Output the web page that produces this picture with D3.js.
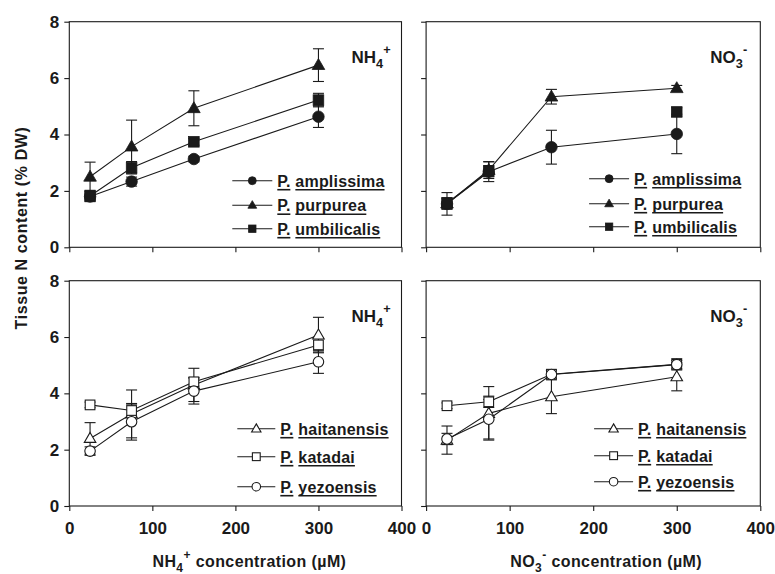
<!DOCTYPE html>
<html><head><meta charset="utf-8">
<script src="https://cdn.jsdelivr.net/npm/d3@7"></script>
<style>
body{margin:0;background:#fff}
svg text{font-family:"Liberation Sans",Arial,Helvetica,sans-serif;font-weight:bold;fill:#1a1a1a}
</style></head><body>
<svg id="c" width="775" height="574"></svg>
<script>
// ---------- data ----------
const concentrations = [25, 75, 150, 300];
const xTicks = [0, 100, 200, 300, 400];
const yTicks = [0, 2, 4, 6, 8];
const speciesTop = ["amplissima", "purpurea", "umbilicalis"];
const speciesBottom = ["haitanensis", "katadai", "yezoensis"];

// top-left: NH4+
const amplissimaNH4 = [1.80, 2.33, 3.13, 4.63];
const amplissimaNH4Err = [0.12, 0.16, 0.10, 0.38];
const purpureaNH4 = [2.50, 3.57, 4.93, 6.46];
const purpureaNH4Err = [0.52, 0.94, 0.62, 0.58];
const umbilicalisNH4 = [1.82, 2.82, 3.74, 5.22];
const umbilicalisNH4Err = [0.20, 0.22, 0.12, 0.24];
// top-right: NO3-
const amplissimaNO3 = [1.54, 2.68, 3.55, 4.02];
const amplissimaNO3Err = [0.40, 0.35, 0.60, 0.70];
const purpureaNO3 = [1.55, 2.74, 5.34, 5.64];
const purpureaNO3Err = [0.20, 0.30, 0.26, 0.10];
const umbilicalisNO3 = [1.56, 2.70, null, 4.80];
const umbilicalisNO3Err = [0.20, 0.20, null, 0.15];
// bottom-left: NH4+
const haitanensisNH4 = [2.40, 3.27, 4.30, 6.07];
const haitanensisNH4Err = [0.56, 0.85, 0.59, 0.63];
const katadaiNH4 = [3.59, 3.39, 4.41, 5.72];
const katadaiNH4Err = [0.10, 0.20, 0.15, 0.25];
const yezoensisNH4 = [1.95, 2.99, 4.08, 5.12];
const yezoensisNH4Err = [0.15, 0.65, 0.46, 0.41];
// bottom-right: NO3-
const haitanensisNO3 = [2.34, 3.29, 3.88, 4.59];
const haitanensisNO3Err = [0.50, 0.95, 0.60, 0.50];
const katadaiNO3 = [3.56, 3.70, 4.68, 5.03];
const katadaiNO3Err = [0.10, 0.20, 0.15, 0.20];
const yezoensisNO3 = [2.38, 3.08, 4.67, 5.02];
const yezoensisNO3Err = [0.20, 0.70, 0.15, 0.15];

// ---------- layout ----------
const svg = d3.select("#c");
const ink = "#1a1a1a";
const colX = [[69.3, 401.5], [426.1, 760.3]];
const rowY = [[21.7, 247.3], [280.7, 506]];

const panels = [
  {col:0,row:0,ion:"NH4",names:speciesTop,filled:true,
   series:[[amplissimaNH4,amplissimaNH4Err],[purpureaNH4,purpureaNH4Err],[umbilicalisNH4,umbilicalisNH4Err]],
   legX:[163,203,208], legY:[159,183.5,207]},
  {col:1,row:0,ion:"NO3",names:speciesTop,filled:true,
   series:[[amplissimaNO3,amplissimaNO3Err],[purpureaNO3,purpureaNO3Err],[umbilicalisNO3,umbilicalisNO3Err]],
   legX:[163,203,208], legY:[157,182,205]},
  {col:0,row:1,ion:"NH4",names:speciesBottom,filled:false,
   series:[[haitanensisNH4,haitanensisNH4Err],[katadaiNH4,katadaiNH4Err],[yezoensisNH4,yezoensisNH4Err]],
   legX:[168,206,211], legY:[148,176,206]},
  {col:1,row:1,ion:"NO3",names:speciesBottom,filled:false,
   series:[[haitanensisNO3,haitanensisNO3Err],[katadaiNO3,katadaiNO3Err],[yezoensisNO3,yezoensisNO3Err]],
   legX:[168,207,212], legY:[148,175,201]}
];
const shapes = ["circle","triangle","square"];
const shapesBottom = ["triangle","square","circle"];

function marker(g, shape, cx, cy, s, filled){
  let el;
  if(shape==="circle"){
    el = g.append("circle").attr("cx",cx).attr("cy",cy).attr("r",s*0.5);
  } else if(shape==="square"){
    el = g.append("rect").attr("x",cx-s*0.46).attr("y",cy-s*0.46).attr("width",s*0.92).attr("height",s*0.92);
  } else {
    const h = s*0.95, w = s*1.1;
    el = g.append("path").attr("d",`M${cx},${cy-h*0.6}L${cx+w/2},${cy+h*0.4}L${cx-w/2},${cy+h*0.4}Z`);
  }
  el.attr("fill", filled ? ink : "#fff").attr("stroke", ink).attr("stroke-width", filled?0.8:1.1);
}

function ionLabel(t, ion, size){
  const sub = ion==="NH4" ? "4" : "3";
  const sup = ion==="NH4" ? "+" : "-";
  t.append("tspan").text(ion==="NH4"?"NH":"NO");
  t.append("tspan").attr("font-size",size*0.75).attr("dy",size*0.3).text(sub);
  t.append("tspan").attr("font-size",size*0.75).attr("dy",-size*0.8).text(sup);
  return t;
}

panels.forEach(p=>{
  const [x0,x1] = colX[p.col], [y0,y1] = rowY[p.row];
  const x = d3.scaleLinear().domain([0,400]).range([x0,x1]);
  const y = d3.scaleLinear().domain([0,8]).range([y1,y0]);
  const g = svg.append("g");

  // frame
  g.append("rect").attr("x",x0).attr("y",y0).attr("width",x1-x0).attr("height",y1-y0)
    .attr("fill","none").attr("stroke",ink).attr("stroke-width",1.1);

  // axes
  const ya = g.append("g").attr("transform",`translate(${x0},0)`)
    .call(d3.axisLeft(y).tickValues(yTicks).tickSize(5).tickFormat(p.col===0?d3.format("d"):""));
  const xa = g.append("g").attr("transform",`translate(0,${y1})`)
    .call(d3.axisBottom(x).tickValues(xTicks).tickSize(5).tickFormat(p.row===1?d3.format("d"):""));
  [ya,xa].forEach(a=>{
    a.select(".domain").remove();
    a.selectAll(".tick line").attr("stroke",ink).attr("stroke-width",1.1);
    a.selectAll("text").attr("font-size",17).attr("fill",ink)
      .style("font-family","'Liberation Sans',Arial,sans-serif").style("font-weight","bold");
  });
  ya.selectAll("text").attr("x",-10);
  xa.selectAll("text").attr("y",16);

  const shp = p.filled ? shapes : shapesBottom;
  const size = p.filled ? 11.5 : 10.5;

  // lines + error bars
  p.series.forEach(([vals,errs],si)=>{
    const pts = concentrations.map((c,i)=>({c, v:vals[i], e:errs[i]}));
    const line = d3.line().defined(d=>d.v!==null).x(d=>x(d.c)).y(d=>y(d.v));
    g.append("path").attr("d",line(pts)).attr("fill","none").attr("stroke",ink).attr("stroke-width",1.1);
    pts.filter(d=>d.v!==null && d.e).forEach(d=>{
      const cx = x(d.c), cap = 5.5;
      [d.v+d.e, d.v-d.e].forEach(ev=>{
        g.append("line").attr("x1",cx).attr("x2",cx).attr("y1",y(d.v)).attr("y2",y(ev)).attr("stroke",ink).attr("stroke-width",1.1);
        g.append("line").attr("x1",cx-cap).attr("x2",cx+cap).attr("y1",y(ev)).attr("y2",y(ev)).attr("stroke",ink).attr("stroke-width",1.1);
      });
    });
  });
  // markers
  p.series.forEach(([vals],si)=>{
    concentrations.forEach((c,i)=>{ if(vals[i]!==null) marker(g, shp[si], x(c), y(vals[i]), size, p.filled); });
  });

  // ion label
  ionLabel(g.append("text").attr("x",x1-50).attr("y",y0+41).attr("font-size",17), p.ion, 17);

  // legend
  p.names.forEach((nm,i)=>{
    const ly = y0 + p.legY[i];
    g.append("line").attr("x1",x0+p.legX[0]).attr("x2",x0+p.legX[1]).attr("y1",ly).attr("y2",ly)
      .attr("stroke",ink).attr("stroke-width",1.1);
    marker(g, shp[i], x0+(p.legX[0]+p.legX[1])/2, ly, p.filled?8:8.5, p.filled);
    const tx = x0+p.legX[2], ty = ly+6;
    const t1 = g.append("text").attr("x",tx).attr("y",ty).attr("font-size",16).text("P.");
    const w1 = t1.node().getComputedTextLength();
    const sx = tx + w1 + 5;
    const t2 = g.append("text").attr("x",sx).attr("y",ty).attr("font-size",16).style("letter-spacing","0.2px").text(nm);
    const w2 = t2.node().getComputedTextLength();
    g.append("line").attr("x1",tx).attr("x2",tx+w1).attr("y1",ty+3).attr("y2",ty+3).attr("stroke",ink).attr("stroke-width",1.6);
    g.append("line").attr("x1",sx).attr("x2",sx+w2).attr("y1",ty+3).attr("y2",ty+3).attr("stroke",ink).attr("stroke-width",1.6);
  });
});

// axis titles
svg.append("text").attr("transform","translate(27,228) rotate(-90)")
  .attr("text-anchor","middle").attr("font-size",16).style("letter-spacing","0.6px")
  .text("Tissue N content (% DW)");

function xTitle(cx, ion){
  const t = svg.append("text").attr("x",cx).attr("y",567).attr("font-size",16).style("letter-spacing","0.4px").attr("text-anchor","middle");
  ionLabel(t, ion, 16);
  t.append("tspan").attr("dy",16*0.5).text(" concentration (\u00B5M)");
}
xTitle((colX[0][0]+colX[0][1])/2 + 14, "NH4");
xTitle((colX[1][0]+colX[1][1])/2 + 13, "NO3");
</script>
</body></html>
